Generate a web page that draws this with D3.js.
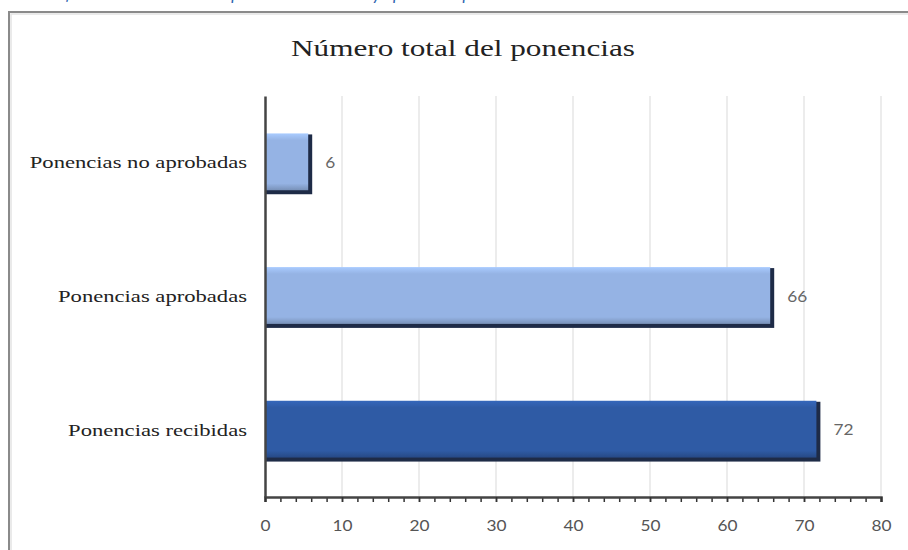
<!DOCTYPE html>
<html>
<head>
<meta charset="utf-8">
<script src="https://cdn.jsdelivr.net/npm/d3@7"></script>
<style>
  html, body { margin: 0; padding: 0; background: #fff; }
  svg { display: block; }
</style>
</head>
<body>
<svg id="chart" width="908" height="550"></svg>
<script>
const categories = ["Ponencias no aprobadas", "Ponencias aprobadas", "Ponencias recibidas"];
const values = [6, 66, 72];
const barColors = ["#95b3e4", "#95b3e4", "#2f5ba5"];
const tickValues = [0, 10, 20, 30, 40, 50, 60, 70, 80];
const minorTickValues = d3.range(0, 81, 2);
const title = "Número total del ponencias";
const caption = "Gráfico 2. Número total de ponencias recibidas y aprobadas por el comité";

const svg = d3.select("#chart");
const W = 908, H = 550;
const margin = { left: 265, right: 27, top: 96, bottom: 53 };
const plotW = W - margin.left - margin.right;
const plotH = H - margin.top - margin.bottom;

// stretch text horizontally (reference glyphs are wide)
function stretch(sel, factor) {
  sel.each(function () {
    const w = this.getComputedTextLength();
    d3.select(this).attr("textLength", w * factor).attr("lengthAdjust", "spacingAndGlyphs");
  });
}

const defs = svg.append("defs");
barColors.forEach((c, i) => {
  const g = defs.append("linearGradient").attr("id", "g" + i)
    .attr("x1", 0).attr("y1", 0).attr("x2", 0).attr("y2", 1);
  const base = d3.color(c);
  g.append("stop").attr("offset", "0%").attr("stop-color", base.brighter(0.35));
  g.append("stop").attr("offset", "12%").attr("stop-color", base);
  g.append("stop").attr("offset", "88%").attr("stop-color", base);
  g.append("stop").attr("offset", "100%").attr("stop-color", base.darker(0.6));
});

// caption, cut off at the top edge as in the reference
svg.append("text")
  .attr("x", 40).attr("y", 0)
  .attr("font-family", "Lato, 'Open Sans', sans-serif")
  .attr("font-style", "italic")
  .attr("font-size", 17)
  .attr("fill", "#2e64b0")
  .text(caption);

// frame
svg.append("path")
  .attr("d", `M9,${H} L9,12 L${W},12`)
  .attr("fill", "none").attr("stroke", "#8a8a8a").attr("stroke-width", 2);
svg.append("path")
  .attr("d", `M11,${H} L11,14 L${W},14`)
  .attr("fill", "none").attr("stroke", "#e4e4e4").attr("stroke-width", 1.5);

const x = d3.scaleLinear().domain([0, 80]).range([margin.left, margin.left + plotW]);
const y = d3.scaleBand().domain(categories).range([margin.top, margin.top + plotH]).paddingInner(0.56).paddingOuter(0.28);

// gridlines
svg.append("g").selectAll("line").data(tickValues.slice(1)).join("line")
  .attr("x1", d => x(d)).attr("x2", d => x(d))
  .attr("y1", margin.top).attr("y2", margin.top + plotH)
  .attr("stroke", "#d9d9d9").attr("stroke-width", 1);

// title
svg.append("text")
  .attr("x", 463).attr("y", 56)
  .attr("text-anchor", "middle")
  .attr("font-family", "'Liberation Serif', 'DejaVu Serif', serif")
  .attr("font-size", 24)
  .attr("fill", "#222")
  .text(title)
  .call(stretch, 1.3);

// bars
const bars = svg.append("g");
categories.forEach((cat, i) => {
  const y0 = y(cat), bh = y.bandwidth();
  const x0 = x(0), x1 = x(values[i]);
  bars.append("rect")
    .attr("x", x0).attr("y", y0 + 1)
    .attr("width", x1 - x0 + 1).attr("height", bh + 1)
    .attr("fill", "#1e2b47");
  bars.append("rect")
    .attr("x", x0).attr("y", y0)
    .attr("width", Math.max(0, x1 - x0 - 3)).attr("height", bh - 2)
    .attr("fill", `url(#g${i})`);
  svg.append("text")
    .attr("x", x1 + 14).attr("y", y0 + bh / 2 + 5)
    .attr("font-family", "Lato, 'Open Sans', sans-serif")
    .attr("font-size", 15)
    .attr("fill", "#666")
    .text(values[i])
    .call(stretch, 1.15);
});

// x axis
const xAxis = svg.append("g").attr("transform", `translate(0,${margin.top + plotH})`);
xAxis.append("g").call(d3.axisBottom(x).tickValues(minorTickValues).tickSize(5).tickFormat(""))
  .call(g => g.select(".domain").remove())
  .call(g => g.selectAll("line").attr("stroke", "#333").attr("stroke-width", 1.5));
xAxis.append("g").call(d3.axisBottom(x).tickValues(tickValues).tickSize(5).tickPadding(18))
  .call(g => g.select(".domain").attr("stroke", "#444").attr("stroke-width", 2.5))
  .call(g => g.selectAll("line").attr("stroke", "#333").attr("stroke-width", 1.5))
  .call(g => g.selectAll("text")
    .attr("font-family", "Lato, 'Open Sans', sans-serif")
    .attr("font-size", 15)
    .attr("fill", "#555")
    .call(stretch, 1.15));

// y axis
const yAxis = svg.append("g").attr("transform", `translate(${margin.left},0)`);
yAxis.call(d3.axisLeft(y).tickSize(0).tickPadding(18))
  .call(g => g.select(".domain").attr("stroke", "#444").attr("stroke-width", 2.5))
  .call(g => g.selectAll("text")
    .attr("font-family", "'Liberation Serif', 'DejaVu Serif', serif")
    .attr("font-size", 17)
    .attr("fill", "#222")
    .call(stretch, 1.33));
</script>
</body>
</html>
